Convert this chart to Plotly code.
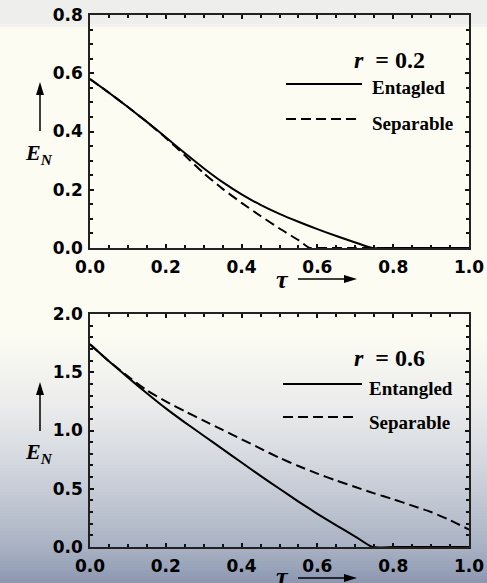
import plotly.graph_objects as go
from plotly.subplots import make_subplots

W, H = 487, 583

# ---------------- data ----------------
top_tau_ent = [0.0, 0.05, 0.1, 0.15, 0.2, 0.25, 0.3, 0.35, 0.4, 0.45, 0.5, 0.55, 0.6, 0.65, 0.7, 0.745, 0.8, 0.85, 0.9, 0.95, 1.0]
top_ent = [0.580, 0.533, 0.484, 0.433, 0.380, 0.326, 0.274, 0.226, 0.184, 0.148, 0.117, 0.090, 0.065, 0.041, 0.019, 0.0, 0.0, 0.0, 0.0, 0.0, 0.0]

top_tau_sep = [0.0, 0.05, 0.1, 0.15, 0.2, 0.25, 0.3, 0.35, 0.4, 0.45, 0.5, 0.55, 0.58, 0.6, 0.65, 0.7, 0.75, 0.8, 0.85, 0.9, 0.95, 1.0]
top_sep = [0.580, 0.533, 0.484, 0.433, 0.378, 0.318, 0.257, 0.203, 0.155, 0.110, 0.067, 0.027, 0.0, 0.0, 0.0, 0.0, 0.0, 0.0, 0.0, 0.0, 0.0, 0.0]

bot_tau_ent = [0.0, 0.05, 0.1, 0.15, 0.2, 0.25, 0.3, 0.35, 0.4, 0.45, 0.5, 0.55, 0.6, 0.65, 0.7, 0.745, 0.8, 0.85, 0.9, 0.95, 1.0]
bot_ent = [1.74, 1.595, 1.455, 1.32, 1.19, 1.07, 0.955, 0.84, 0.725, 0.61, 0.50, 0.39, 0.285, 0.185, 0.09, 0.0, 0.0, 0.0, 0.0, 0.0, 0.0]

bot_tau_sep = [0.0, 0.05, 0.1, 0.15, 0.2, 0.25, 0.3, 0.35, 0.4, 0.45, 0.5, 0.55, 0.6, 0.65, 0.7, 0.75, 0.8, 0.85, 0.9, 0.95, 1.0]
bot_sep = [1.74, 1.595, 1.465, 1.345, 1.25, 1.165, 1.085, 1.005, 0.925, 0.845, 0.765, 0.695, 0.63, 0.57, 0.515, 0.46, 0.41, 0.355, 0.30, 0.23, 0.15]

x_ticks = [0.0, 0.2, 0.4, 0.6, 0.8, 1.0]
x_ticklabels = ["0.0", "0.2", "0.4", "0.6", "0.8", "1.0"]
top_y_ticks = [0.0, 0.2, 0.4, 0.6, 0.8]
top_y_labels = ["0.0", "0.2", "0.4", "0.6", "0.8"]
bot_y_ticks = [0.0, 0.5, 1.0, 1.5, 2.0]
bot_y_labels = ["0.0", "0.5", "1.0", "1.5", "2.0"]

top_label = "<i>r</i>&nbsp;&nbsp;=&nbsp;0.2"
bot_label = "<i>r</i>&nbsp;&nbsp;=&nbsp;0.6"
top_names = ["Entagled", "Separable"]
bot_names = ["Entangled", "Separable"]

# ---------------- figure ----------------
def px_x(p):
    return p / W

def px_y(p):
    return 1 - p / H

fig = make_subplots(rows=2, cols=1)

LINE_W = 2
DASH = "10px,5px"
SOLID = dict(color="black", width=LINE_W, shape="spline", smoothing=0.6)
DASHED = dict(color="black", width=LINE_W, dash=DASH, shape="spline", smoothing=0.6)

fig.add_trace(go.Scatter(x=top_tau_ent, y=top_ent, mode="lines", line=SOLID, name=top_names[0], showlegend=False), row=1, col=1)
fig.add_trace(go.Scatter(x=top_tau_sep, y=top_sep, mode="lines", line=DASHED, name=top_names[1], showlegend=False), row=1, col=1)
fig.add_trace(go.Scatter(x=bot_tau_ent, y=bot_ent, mode="lines", line=SOLID, name=bot_names[0], showlegend=False), row=2, col=1)
fig.add_trace(go.Scatter(x=bot_tau_sep, y=bot_sep, mode="lines", line=DASHED, name=bot_names[1], showlegend=False), row=2, col=1)

xdom = [px_x(90), px_x(469)]
top_dom = [px_y(248), px_y(15)]
bot_dom = [px_y(547), px_y(314)]

tickfont = dict(family="DejaVu Sans", size=17, color="black", weight="bold")
axis_common = dict(
    showline=True, linecolor="#222", linewidth=1.5, mirror="allticks",
    ticks="inside", ticklen=4, tickwidth=2, tickcolor="#111",
    showgrid=False, zeroline=False, tickfont=tickfont, automargin=False,
)

fig.update_xaxes(domain=xdom, range=[0, 1], tickvals=x_ticks, ticktext=x_ticklabels,
                 minor=dict(dtick=0.05, ticks="inside", ticklen=3, tickwidth=2, tickcolor="#111", showgrid=False),
                 ticklabelstandoff=3, **axis_common)
fig.update_yaxes(domain=top_dom, range=[0, 0.8], tickvals=top_y_ticks, ticktext=top_y_labels,
                 minor=dict(dtick=0.05, ticks="inside", ticklen=3, tickwidth=2, tickcolor="#111", showgrid=False),
                 ticklabelstandoff=2, row=1, col=1, **axis_common)
fig.update_yaxes(domain=bot_dom, range=[0, 2.0], tickvals=bot_y_ticks, ticktext=bot_y_labels,
                 minor=dict(dtick=0.1, ticks="inside", ticklen=3, tickwidth=2, tickcolor="#111", showgrid=False),
                 ticklabelstandoff=2, row=2, col=1, **axis_common)

# ---------------- background gradient (styling) ----------------
def hex2rgb(h):
    h = h.lstrip("#")
    return tuple(int(h[i:i + 2], 16) for i in (0, 2, 4))

stops = [(0, "#eeeeec"), (24, "#eeeeec"), (29, "#fcfcf3"), (335, "#fcfcf3"),
         (400, "#ecedec"), (450, "#d9dce2"), (500, "#c2c8d3"), (550, "#a7b0c2"), (583, "#8c97b0")]

def color_at(yp):
    for (y0, c0), (y1, c1) in zip(stops[:-1], stops[1:]):
        if y0 <= yp <= y1:
            t = 0 if y1 == y0 else (yp - y0) / (y1 - y0)
            a, b = hex2rgb(c0), hex2rgb(c1)
            return "rgb(%d,%d,%d)" % tuple(round(a[i] + (b[i] - a[i]) * t) for i in range(3))
    return stops[-1][1]

shapes = []
step = 3
yp = 0
while yp < H:
    shapes.append(dict(type="rect", xref="paper", yref="paper", x0=0, x1=1,
                       y0=px_y(min(yp + step, H)), y1=px_y(yp), line=dict(width=0),
                       fillcolor=color_at(yp + step / 2), layer="below"))
    yp += step

# legend sample lines
def hline(x0, x1, y, dash=None, width=2):
    ln = dict(color="black", width=width)
    if dash:
        ln["dash"] = dash
    return dict(type="line", xref="paper", yref="paper", x0=px_x(x0), x1=px_x(x1), y0=px_y(y), y1=px_y(y), line=ln)

shapes += [hline(286, 362, 84), hline(286, 358, 119, DASH),
           hline(283, 362, 384), hline(283, 357, 417, DASH)]

# arrows (shaft + filled head), pixel coords
def harrow(x0, x1, y):
    shapes.append(hline(x0, x1 - 8, y, width=1.5))
    shapes.append(dict(type="path", xref="paper", yref="paper",
                       path="M %f %f L %f %f L %f %f Z" % (px_x(x1), px_y(y), px_x(x1 - 13), px_y(y - 4), px_x(x1 - 13), px_y(y + 4)),
                       fillcolor="black", line=dict(width=0)))

def varrow(x, y_tail, y_tip):
    shapes.append(dict(type="line", xref="paper", yref="paper", x0=px_x(x), x1=px_x(x),
                       y0=px_y(y_tail), y1=px_y(y_tip + 8), line=dict(color="black", width=1.5)))
    shapes.append(dict(type="path", xref="paper", yref="paper",
                       path="M %f %f L %f %f L %f %f Z" % (px_x(x), px_y(y_tip), px_x(x - 4), px_y(y_tip + 13), px_x(x + 4), px_y(y_tip + 13)),
                       fillcolor="black", line=dict(width=0)))

harrow(298, 357, 279)
harrow(298, 357, 578)
varrow(40, 131, 82)
varrow(40, 431, 382)

# ---------------- annotations ----------------
serif = "Liberation Serif"
ann = []

def text(x, y, s, size=20, xanchor="left", bold=True):
    f = dict(family=serif, size=size, color="black", weight="bold" if bold else "normal")
    ann.append(dict(x=px_x(x), y=px_y(y), xref="paper", yref="paper", text=s, showarrow=False,
                    xanchor=xanchor, yanchor="middle", font=f))

text(352, 60, top_label, size=24)
text(352, 358, bot_label, size=24)
text(370, 88, top_names[0], size=19)
text(370, 123, top_names[1], size=19)
text(367, 388, bot_names[0], size=19)
text(367, 422, bot_names[1], size=19)
text(282, 279, "<i>τ</i>", size=26, xanchor="center")
text(282, 576, "<i>τ</i>", size=26, xanchor="center")
text(39, 154, "<i>E<sub>N</sub></i>", size=22, xanchor="center")
text(39, 453, "<i>E<sub>N</sub></i>", size=22, xanchor="center")

fig.update_layout(
    width=W, height=H, margin=dict(l=0, r=0, t=0, b=0),
    paper_bgcolor="#fcfcf3", plot_bgcolor="rgba(0,0,0,0)",
    shapes=shapes, annotations=ann, showlegend=False,
)

fig.write_html("out.html", config={"displayModeBar": False},
               post_script="document.body.style.margin='0';document.body.style.overflow='hidden';")
